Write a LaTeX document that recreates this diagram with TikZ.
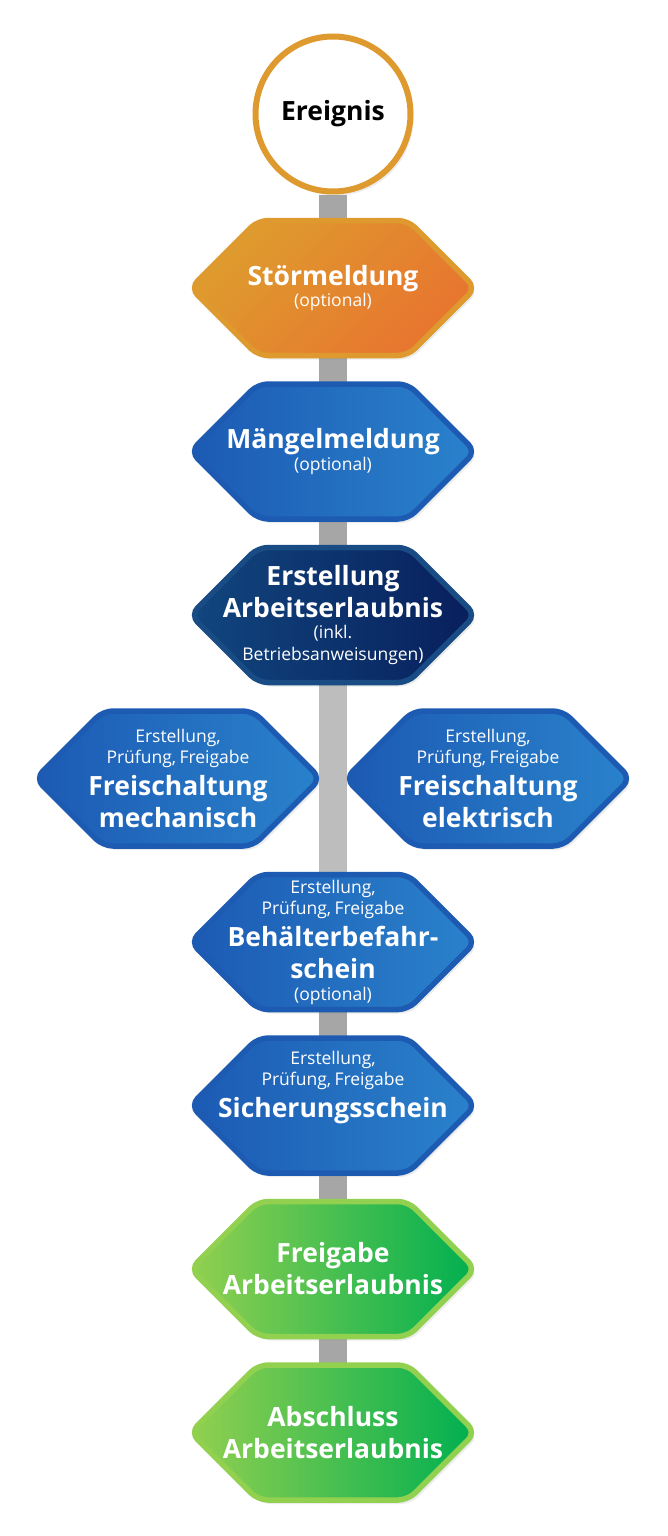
\documentclass[tikz,border=0pt]{standalone}
\usepackage{fontspec}
\setmainfont{Open Sans}
\usepackage{xcolor}
\usepackage{tikz}
\usetikzlibrary{shapes, shadows, positioning, backgrounds}

\definecolor{orangeRand}{HTML}{DE9A2E}
\definecolor{orangeHell}{HTML}{DE9C2E}
\definecolor{orangeDunkel}{HTML}{E8742F}
\definecolor{blauRand}{HTML}{1D5BB3}
\definecolor{blauLinks}{HTML}{1C5AB4}
\definecolor{blauRechts}{HTML}{2A82CB}
\definecolor{navyRand}{HTML}{194B84}
\definecolor{navyLinks}{HTML}{11467E}
\definecolor{navyRechts}{HTML}{081F5C}
\definecolor{gruenRand}{HTML}{92D050}
\definecolor{gruenLinks}{HTML}{92D050}
\definecolor{gruenRechts}{HTML}{00AF50}
\definecolor{stangeGrau}{HTML}{A6A6A6}
\definecolor{stangeHell}{HTML}{BDBDBD}

\newcommand{\klein}{\fontsize{17.5}{21.5}\selectfont}
\newcommand{\gross}{\fontsize{26.5}{32}\selectfont\bfseries}

\makeatletter
\pgfdeclareshape{sechseck}{%
  \inheritsavedanchors[from=rectangle]
  \inheritanchorborder[from=rectangle]
  \inheritanchor[from=rectangle]{center}
  \inheritanchor[from=rectangle]{north}
  \inheritanchor[from=rectangle]{south}
  \inheritanchor[from=rectangle]{east}
  \inheritanchor[from=rectangle]{west}
  \backgroundpath{%
    \southwest \pgf@xa=\pgf@x \pgf@ya=\pgf@y
    \northeast \pgf@xb=\pgf@x \pgf@yb=\pgf@y
    \pgf@yc=.5\pgf@ya \advance\pgf@yc by .5\pgf@yb
    \pgf@xc=.5\pgf@yb \advance\pgf@xc by -.5\pgf@ya
    \edef\sechsL{\the\pgf@xa}\edef\sechsR{\the\pgf@xb}%
    \edef\sechsU{\the\pgf@ya}\edef\sechsO{\the\pgf@yb}\edef\sechsY{\the\pgf@yc}%
    \advance\pgf@xa by \pgf@xc \advance\pgf@xb by -\pgf@xc
    \edef\sechsIL{\the\pgf@xa}\edef\sechsIR{\the\pgf@xb}%
    \pgf@xa=.5\pgf@xa \advance\pgf@xa by .5\pgf@xb
    \edef\sechsM{\the\pgf@xa}%
    \pgfpathmoveto{\pgfqpoint{\sechsM}{\sechsO}}%
    \pgfpathlineto{\pgfqpoint{\sechsIR}{\sechsO}}%
    \pgfpathlineto{\pgfqpoint{\sechsR}{\sechsY}}%
    \pgfpathlineto{\pgfqpoint{\sechsIR}{\sechsU}}%
    \pgfpathlineto{\pgfqpoint{\sechsIL}{\sechsU}}%
    \pgfpathlineto{\pgfqpoint{\sechsL}{\sechsY}}%
    \pgfpathlineto{\pgfqpoint{\sechsIL}{\sechsO}}%
    \pgfpathclose
  }
}
\makeatother

\tikzset{
    kreis/.style={
        circle,
        draw=orangeRand,
        line width=6pt,
        fill=white,
        minimum size=155pt,
        inner sep=0pt,
        drop shadow={opacity=0.15, shadow xshift=3pt, shadow yshift=-4pt},
    },
    schritt/.style={
        sechseck,
        line width=5.5pt,
        rounded corners=10pt,
        minimum width=285pt,
        minimum height=135pt,
        inner sep=0pt,
        outer sep=0pt,
        text width=270pt,
        align=center,
        text=white,
        drop shadow={opacity=0.15, shadow xshift=3pt, shadow yshift=-4pt},
    },
    stoerung/.style={
        draw=orangeRand,
        top color=orangeHell,
        bottom color=orangeDunkel,
        shading angle=45,
    },
    blau/.style={
        draw=blauRand,
        left color=blauLinks,
        right color=blauRechts,
    },
    dunkel/.style={
        draw=navyRand,
        left color=navyLinks,
        right color=navyRechts,
    },
    gruen/.style={
        draw=gruenRand,
        left color=gruenLinks,
        right color=gruenRechts,
    },
    stange/.style={
        draw=stangeGrau,
        line width=28pt,
    },
}

\begin{document}
\begin{tikzpicture}[x=1pt, y=1pt, node distance=163.5pt]
      \useasboundingbox (0,0) rectangle (668,-1536);

      \node [kreis] (ereignis) at (333,-114) {\gross Ereignis};
      \node [schritt, stoerung] (stoermeldung) [node distance=174pt, below of=ereignis]
            {{\gross Störmeldung\par}{\klein (optional)\par}};
      \node [schritt, blau] (maengel) [below of=stoermeldung]
            {{\gross Mängelmeldung\par}{\klein (optional)\par}};
      \node [schritt, dunkel] (erstellung) [below of=maengel]
            {{\gross Erstellung\\ Arbeitserlaubnis\par}{\klein (inkl.\\ Betriebsanweisungen)\par}};
      \coordinate [below of=erstellung] (mitte);

      \node [schritt, blau] (mechanisch) [node distance=155pt, left of=mitte]
            {{\klein Erstellung,\\ Prüfung, Freigabe\par}{\gross Freischaltung\\ mechanisch\par}};
      \node [schritt, blau] (elektrisch) [node distance=155pt, right of=mitte]
            {{\klein Erstellung,\\ Prüfung, Freigabe\par}{\gross Freischaltung\\ elektrisch\par}};

      \node [schritt, blau] (behaelter) [below of=mitte]
            {{\klein Erstellung,\\ Prüfung, Freigabe\par}{\gross Behälterbefahr-\\ schein\par}{\klein (optional)\par}};
      \node [schritt, blau] (sicherung) [below of=behaelter]
            {{\klein Erstellung,\\ Prüfung, Freigabe\par}{\gross Sicherungsschein\rule[-42pt]{0pt}{42pt}\par}};
      \node [schritt, gruen] (freigabe) [below of=sicherung]
            {{\gross Freigabe\\ Arbeitserlaubnis\par}};
      \node [schritt, gruen] (abschluss) [below of=freigabe]
            {{\gross Abschluss\\ Arbeitserlaubnis\par}};

      \begin{scope}[on background layer]
      \fill[white] (0,0) rectangle (668,-1536);
      \path[stange] (ereignis) edge (erstellung);
      \path[stange, draw=stangeHell] (erstellung) edge (behaelter);
      \path[stange] (behaelter) edge (abschluss);
      \end{scope}
\end{tikzpicture}
\end{document}
